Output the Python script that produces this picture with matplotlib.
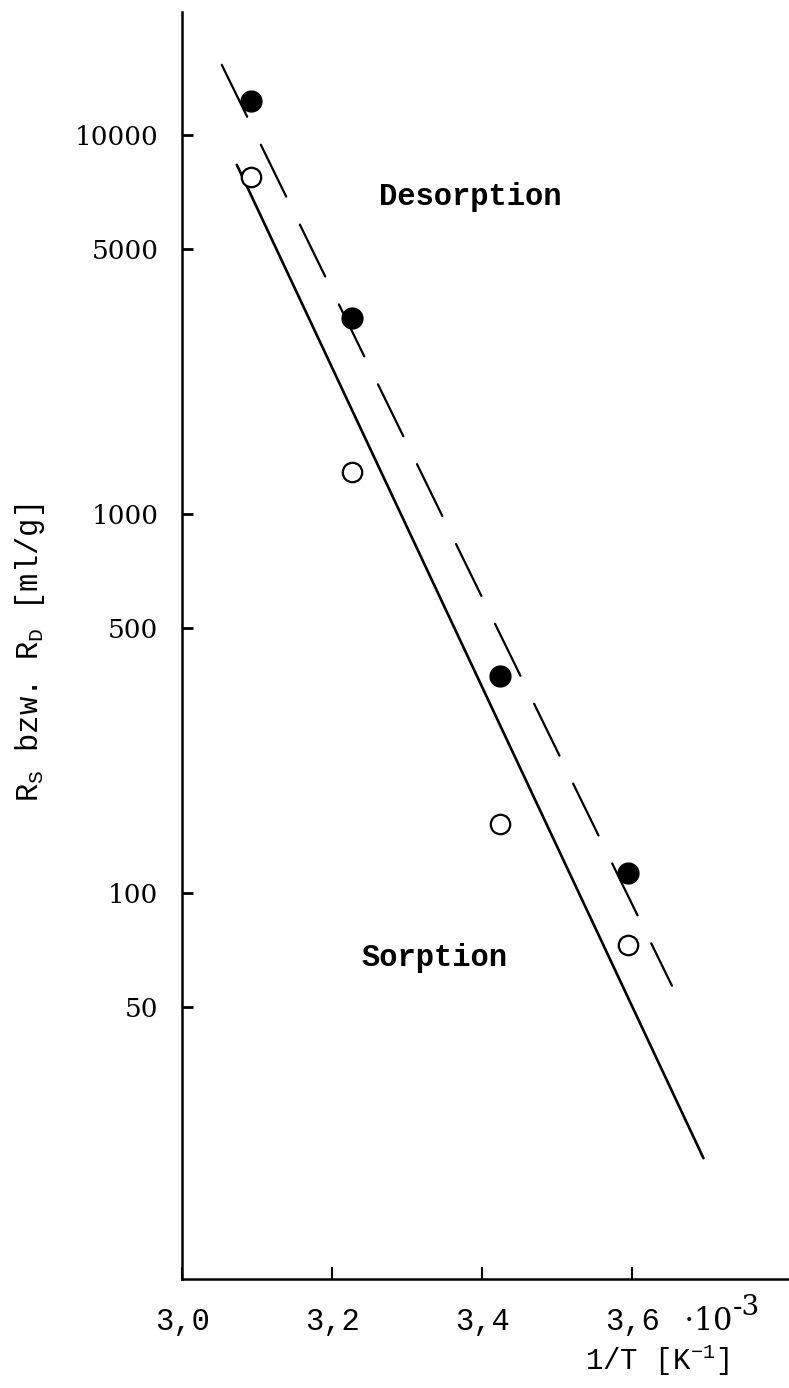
import numpy as np
import matplotlib
matplotlib.use("Agg")
import matplotlib.pyplot as plt

# 1/T values (in 1e-3 K^-1) and distribution ratios
inv_T = [3.092, 3.227, 3.424, 3.595]
R_desorption = [12300, 3280, 375, 113]
R_sorption = [7750, 1290, 152, 73]

# regression lines, end points
fit_des_x = [3.053, 3.653]
fit_des_y = [15300, 57]
fit_sorp_x = [3.073, 3.695]
fit_sorp_y = [8340, 20]

yticks = [50, 100, 500, 1000, 5000, 10000]
xticks = [3.0, 3.2, 3.4, 3.6]
xticklabels = ["3,0", "3,2", "3,4", "3,6"]

mono = "Liberation Mono"
serif = "DejaVu Serif"

plt.rcParams["mathtext.fontset"] = "custom"
plt.rcParams["mathtext.rm"] = mono

fig = plt.figure(figsize=(7.89, 13.88), dpi=100)
ax = fig.add_axes([0.2307, 0.0785, 0.7693, 0.9129])

ax.set_yscale("log")
ax.set_xlim(3.0, 3.809)
ax.set_ylim(9.6, 21100)

ax.plot(fit_sorp_x, fit_sorp_y, color="black", lw=1.9, solid_capstyle="round")
ax.plot(fit_des_x, fit_des_y, color="black", lw=1.6, dashes=(26, 14),
        dash_capstyle="round")

ax.plot(inv_T, R_desorption, "o", color="black", ms=15, ls="none")
ax.plot(inv_T, R_sorption, "o", mfc="white", mec="black", mew=1.6, ms=14, ls="none")

for s in ["top", "right"]:
    ax.spines[s].set_visible(False)
for s in ["left", "bottom"]:
    ax.spines[s].set_linewidth(1.8)

ax.set_yticks(yticks)
ax.set_yticklabels([str(v) for v in yticks], fontfamily=serif, fontsize=19)
ax.yaxis.set_minor_locator(matplotlib.ticker.NullLocator())
ax.tick_params(axis="y", direction="in", length=8, width=2, pad=17)

ax.set_xticks(xticks)
ax.set_xticklabels(xticklabels, fontfamily=mono, fontsize=22)
ax.tick_params(axis="x", direction="in", length=9, width=1.5, pad=20)

# exponent of the 1/T scale, placed after the last tick label
ax.text(0.826, -0.040, r"$\cdot\mathrm{10}$", transform=ax.transAxes,
        fontsize=22, math_fontfamily="dejavuserif", ha="left", va="baseline")
ax.text(0.907, -0.028, "-3", transform=ax.transAxes,
        fontsize=20, fontfamily=serif, ha="left", va="baseline")
ax.text(0.7825, -0.064, r"1/T [K$^{-1}$]", transform=ax.transAxes,
        fontsize=21, fontfamily=mono, ha="center", va="center")

fig.text(0.038, 0.53, r"R$_\mathrm{S}$ bzw. R$_\mathrm{D}$ [ml/g]", rotation=90,
         fontsize=22, fontfamily=mono, ha="center", va="center")

ax.text(3.384, 6860, "Desorption", fontsize=22, fontfamily=mono,
        fontweight="bold", ha="center", va="center")
ax.text(3.336, 67.3, "Sorption", fontsize=22, fontfamily=mono,
        fontweight="bold", ha="center", va="center")

fig.savefig("out.png", dpi=100, facecolor="white")
